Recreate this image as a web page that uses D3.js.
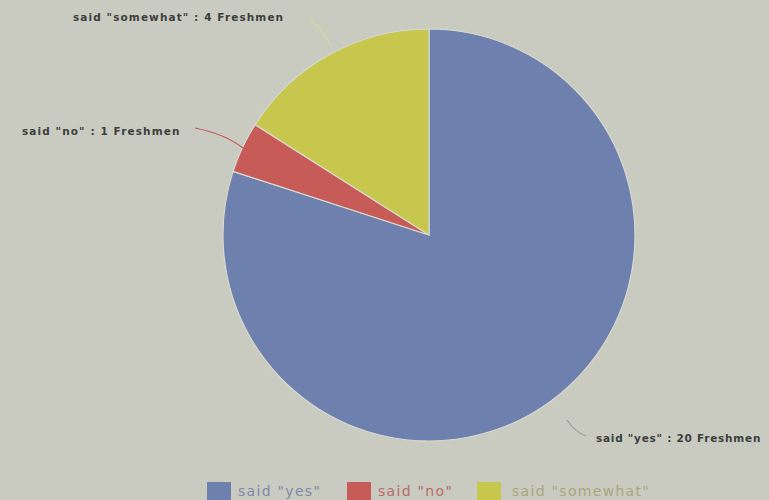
<!DOCTYPE html>
<html><head><meta charset="utf-8">
<script src="https://cdn.jsdelivr.net/npm/d3@7"></script>
<style>html,body{margin:0;padding:0;background:#c9cbc1;}svg{display:block;}</style>
</head><body>
<svg id="c" width="769" height="500"></svg>
<script>
const categories = ['said "yes"', 'said "no"', 'said "somewhat"'];
const values = [20, 1, 4];
const unit = "Freshmen";
const colors = ["#6d80ae", "#c65b58", "#c6c74c"];
const legendTextColors = ["#7f88a6", "#b96a6a", "#a8a77a"];
const connectorColors = ["#9a9c98", "#c05a58", "#d8d89c"];

const svg = d3.select("#c");
const W = 769, H = 500;
const cx = 429, cy = 235, r = 206;

svg.append("rect").attr("width", W).attr("height", H).attr("fill", "#c9cbc1");

const data = categories.map((c, i) => ({ name: c, value: values[i], i }));
const pie = d3.pie().value(d => d.value).sort(null);
const arcs = pie(data);
const arc = d3.arc().innerRadius(0).outerRadius(r);

const g = svg.append("g").attr("transform", `translate(${cx},${cy})`);
g.selectAll("path").data(arcs).join("path")
  .attr("d", arc)
  .attr("fill", d => colors[d.data.i])
  .attr("stroke", "#d8d9cf").attr("stroke-width", 1.2);

// labels with connectors
const labelPos = [
  { tx: 596, ty: 442, ls: 0.75, line: "M567,420 Q575,432 586,436" },
  { tx: 22, ty: 135, ls: 1.1, line: "M195,128 Q225,134 243,148" },
  { tx: 73, ty: 21, ls: 1.1, line: "M311,20 Q322,30 331,46" }
];
arcs.forEach((a, k) => {
  const p = labelPos[k];
  svg.append("path").attr("d", p.line).attr("fill", "none")
    .attr("stroke", connectorColors[k]).attr("stroke-width", 1.2);
  svg.append("text")
    .attr("x", p.tx).attr("y", p.ty)
    .attr("font-family", "DejaVu Sans, sans-serif")
    .attr("font-size", 10.5).attr("font-weight", "bold")
    .attr("letter-spacing", p.ls)
    .attr("fill", "#3e3e3e")
    .text(`${a.data.name} : ${a.data.value} ${unit}`);
});

// legend
const legendX = [207, 347, 477];
const textX = [238, 378, 512];
const lg = svg.append("g");
categories.forEach((c, i) => {
  lg.append("rect").attr("x", legendX[i]).attr("y", 482).attr("width", 24).attr("height", 18)
    .attr("fill", colors[i]);
  lg.append("text").attr("x", textX[i]).attr("y", 496)
    .attr("font-family", "DejaVu Sans, sans-serif").attr("font-size", 14)
    .attr("letter-spacing", 1.3)
    .attr("fill", legendTextColors[i]).text(c);
});
</script>
</body></html>
